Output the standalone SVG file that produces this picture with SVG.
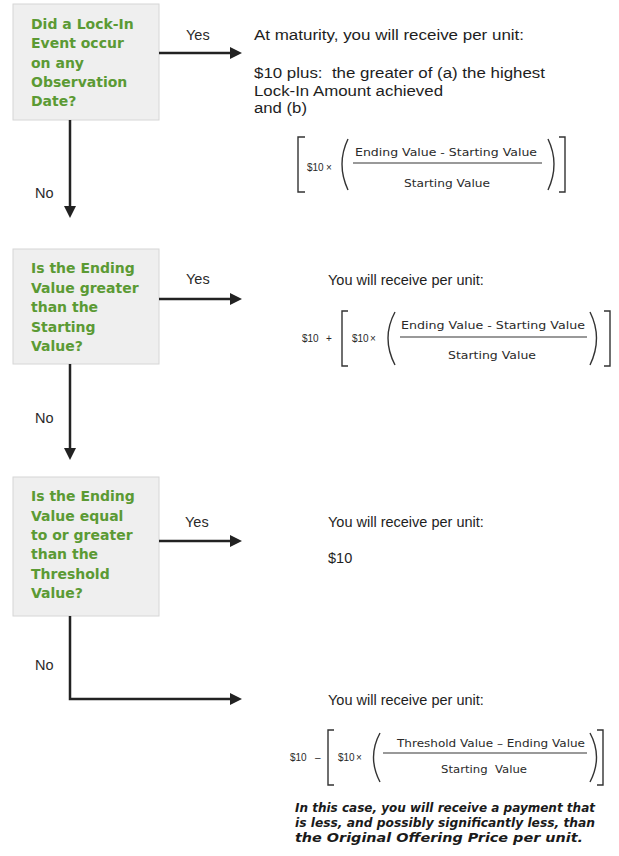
<svg xmlns="http://www.w3.org/2000/svg" width="619" height="856" viewBox="0 0 619 856">
<style>
.box{fill:#efefef;stroke:#d6d6d6;stroke-width:1}
.q{font-family:"DejaVu Sans",Verdana,sans-serif;font-weight:bold;font-size:14px;fill:#5b9a34}
.lbl{font-family:"Liberation Sans",Arial,sans-serif;font-size:14.5px;fill:#2a2a2a}
.t{font-family:"Liberation Sans",Arial,sans-serif;font-size:14.5px;fill:#1e1e1e}
.t1{font-family:"Liberation Sans",Arial,sans-serif;font-size:15.5px;fill:#1e1e1e}
.f{font-family:"Liberation Sans",Arial,sans-serif;font-size:10px;fill:#2a2a2a}
.fn{font-family:"DejaVu Sans",Verdana,sans-serif;font-size:10.5px;fill:#2a2a2a}
.fm{fill:none;stroke:#333;stroke-width:1.4}
.fl{fill:none;stroke:#777;stroke-width:1.6}
.it{font-family:"DejaVu Sans",Verdana,sans-serif;font-weight:bold;font-style:italic;font-size:12px;fill:#1a1a1a}
.c{fill:none;stroke:#222;stroke-width:2.5}
</style>
<defs>
<marker id="ah" markerWidth="12" markerHeight="12" refX="2" refY="6" orient="auto" markerUnits="userSpaceOnUse">
<path d="M0,0 L12,6 L0,12 z" fill="#222"/>
</marker>
</defs>
<rect width="619" height="856" fill="#ffffff"/>

<g id="q1">
<rect class="box" x="13" y="4" width="146" height="116"/>
<text class="q" x="31" y="29">Did a Lock-In</text>
<text class="q" x="31" y="48">Event occur</text>
<text class="q" x="31" y="68">on any</text>
<text class="q" x="31" y="87">Observation</text>
<text class="q" x="31" y="106">Date?</text>
</g>

<g id="q2">
<rect class="box" x="13" y="249" width="146" height="115"/>
<text class="q" x="31" y="273">Is the Ending</text>
<text class="q" x="31" y="293">Value greater</text>
<text class="q" x="31" y="312">than the</text>
<text class="q" x="31" y="332">Starting</text>
<text class="q" x="31" y="351">Value?</text>
</g>

<g id="q3">
<rect class="box" x="13" y="477" width="146" height="139"/>
<text class="q" x="31" y="501">Is the Ending</text>
<text class="q" x="31" y="521">Value equal</text>
<text class="q" x="31" y="540">to or greater</text>
<text class="q" x="31" y="559">than the</text>
<text class="q" x="31" y="579">Threshold</text>
<text class="q" x="31" y="598">Value?</text>
</g>

<g id="connectors">
<path class="c" d="M159,53 H232" marker-end="url(#ah)"/>
<path class="c" d="M70,120 V208" marker-end="url(#ah)"/>
<path class="c" d="M159,299 H232" marker-end="url(#ah)"/>
<path class="c" d="M70,364 V450" marker-end="url(#ah)"/>
<path class="c" d="M159,541 H232" marker-end="url(#ah)"/>
<path class="c" d="M70,616 V699 H232" marker-end="url(#ah)"/>
<text class="lbl" x="186" y="40">Yes</text>
<text class="lbl" x="35" y="198">No</text>
<text class="lbl" x="186" y="284">Yes</text>
<text class="lbl" x="35" y="423">No</text>
<text class="lbl" x="185" y="527">Yes</text>
<text class="lbl" x="35" y="670">No</text>
</g>

<g id="r1">
<text class="t1" x="254" y="40" textLength="270" lengthAdjust="spacingAndGlyphs">At maturity, you will receive per unit:</text>
<text class="t1" x="254" y="78" xml:space="preserve" textLength="291" lengthAdjust="spacingAndGlyphs">$10 plus:  the greater of (a) the highest</text>
<text class="t1" x="254" y="96" textLength="189" lengthAdjust="spacingAndGlyphs">Lock-In Amount achieved</text>
<text class="t1" x="254" y="113" textLength="53" lengthAdjust="spacingAndGlyphs">and (b)</text>
<path class="fm" d="M305,137 H298 V192 H305"/>
<text class="f" x="307" y="171">$10</text>
<text class="f" x="326" y="171">×</text>
<path class="fm" d="M348,139 Q336,164 348,190"/>
<text class="fn" x="446" y="156" text-anchor="middle" textLength="182" lengthAdjust="spacingAndGlyphs">Ending Value - Starting Value</text>
<path class="fl" d="M353,163 H542"/>
<text class="fn" x="447" y="187" text-anchor="middle" textLength="86" lengthAdjust="spacingAndGlyphs">Starting Value</text>
<path class="fm" d="M548,139 Q560,164 548,190"/>
<path class="fm" d="M559,137 H565 V192 H559"/>
</g>

<g id="r2">
<text class="t" x="328" y="285">You will receive per unit:</text>
<text class="f" x="302" y="342">$10</text>
<text class="f" x="326" y="342">+</text>
<path class="fm" d="M348,311 H342 V366 H348"/>
<text class="f" x="352" y="342">$10</text>
<text class="f" x="370" y="342">×</text>
<path class="fm" d="M395,312 Q381,338 395,365"/>
<text class="fn" x="493" y="329" text-anchor="middle" textLength="184" lengthAdjust="spacingAndGlyphs">Ending Value - Starting Value</text>
<path class="fl" d="M400,337 H587"/>
<text class="fn" x="492" y="359" text-anchor="middle" textLength="88" lengthAdjust="spacingAndGlyphs">Starting Value</text>
<path class="fm" d="M590,312 Q603,338 590,365"/>
<path class="fm" d="M604,311 H610 V366 H604"/>
</g>

<g id="r3">
<text class="t" x="328" y="527">You will receive per unit:</text>
<text class="t" x="328" y="563">$10</text>
</g>

<g id="r4">
<text class="t" x="328" y="705">You will receive per unit:</text>
<text class="f" x="290" y="761">$10</text>
<text class="f" x="315" y="761">–</text>
<path class="fm" d="M334,730 H328 V785 H334"/>
<text class="f" x="338" y="761">$10</text>
<text class="f" x="356" y="761">×</text>
<path class="fm" d="M380,733 Q367,757 380,782"/>
<text class="fn" x="491" y="747" text-anchor="middle" textLength="188" lengthAdjust="spacingAndGlyphs">Threshold Value – Ending Value</text>
<path class="fl" d="M383,753 H587"/>
<text class="fn" x="484" y="773" text-anchor="middle" textLength="86" lengthAdjust="spacingAndGlyphs" xml:space="preserve">Starting  Value</text>
<path class="fm" d="M590,733 Q603,757 590,782"/>
<path class="fm" d="M597,730 H603 V785 H597"/>
<text class="it" x="295" y="812" textLength="300" lengthAdjust="spacingAndGlyphs">In this case, you will receive a payment that</text>
<text class="it" x="295" y="827" textLength="300" lengthAdjust="spacingAndGlyphs">is less, and possibly significantly less, than</text>
<text class="it" x="295" y="842" textLength="288" lengthAdjust="spacingAndGlyphs">the Original Offering Price per unit.</text>
</g>
</svg>
